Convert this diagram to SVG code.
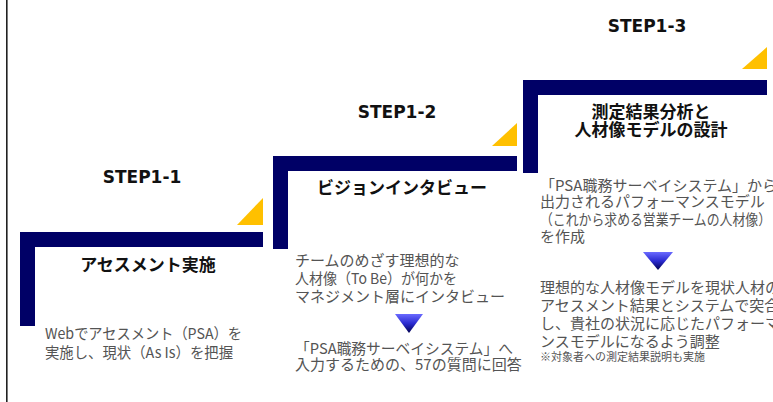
<svg xmlns="http://www.w3.org/2000/svg" width="773" height="402" viewBox="0 0 773 402">
  <defs>
    <linearGradient id="arrowGrad" x1="0" y1="0" x2="0" y2="1">
      <stop offset="0" stop-color="#6a6aff"/>
      <stop offset="0.5" stop-color="#2a2ad0"/>
      <stop offset="1" stop-color="#000050"/>
    </linearGradient>
    <style>
      .bar { fill: #000066; }
      .tri { fill: #FFC000; }
      .step { font-family: "DejaVu Sans", Verdana, sans-serif; font-weight: bold; font-size: 17px; fill: #111; text-anchor: middle; }
      .title { font-family: "Noto Sans CJK JP", sans-serif; font-weight: bold; font-size: 17px; fill: #111; text-anchor: middle; }
      .body { font-family: "Noto Sans CJK JP", sans-serif; font-size: 15px; fill: #545454; }
      .note { font-family: "Noto Sans CJK JP", sans-serif; font-size: 11px; fill: #545454; }
      .arrow { fill: url(#arrowGrad); }
    </style>
  </defs>
  <rect x="0" y="0" width="773" height="402" fill="#ffffff"/>
  <rect x="6" y="0" width="1.6" height="402" fill="#222"/>

  <g id="step1-1">
    <text class="step" x="142" y="183">STEP1-1</text>
    <polygon class="tri" points="237,225 263,225 263,198"/>
    <rect class="bar" x="20" y="232" width="243" height="15"/>
    <rect class="bar" x="20" y="232" width="15" height="94"/>
    <text class="title" x="148" y="271">アセスメント実施</text>
    <text class="body" x="45" y="339" textLength="197" lengthAdjust="spacingAndGlyphs">Webでアセスメント（PSA）を</text>
    <text class="body" x="45" y="358" textLength="188" lengthAdjust="spacingAndGlyphs">実施し、現状（As Is）を把握</text>
  </g>

  <g id="step1-2">
    <text class="step" x="397" y="118">STEP1-2</text>
    <polygon class="tri" points="492,146 517,146 517,123"/>
    <rect class="bar" x="273" y="156" width="244" height="15"/>
    <rect class="bar" x="273" y="156" width="15" height="93"/>
    <text class="title" x="402" y="194">ビジョンインタビュー</text>
    <text class="body" x="295" y="266">チームのめざす理想的な</text>
    <text class="body" x="295" y="284" textLength="162" lengthAdjust="spacingAndGlyphs">人材像（To Be）が何かを</text>
    <text class="body" x="295" y="302">マネジメント層にインタビュー</text>
    <text class="body" x="295" y="354" textLength="218" lengthAdjust="spacingAndGlyphs">「PSA職務サーベイシステム」へ</text>
    <text class="body" x="295" y="370">入力するための、57の質問に回答</text>
  </g>

  <g id="step1-3">
    <text class="step" x="647" y="32">STEP1-3</text>
    <polygon class="tri" points="742,69 767,69 767,47"/>
    <rect class="bar" x="523" y="80" width="244" height="15"/>
    <rect class="bar" x="523" y="80" width="15" height="93"/>
    <text class="title" x="651" y="118">測定結果分析と</text>
    <text class="title" x="651" y="136">人材像モデルの設計</text>
    <text class="body" x="540" y="191">「PSA職務サーベイシステム」から</text>
    <text class="body" x="540" y="207">出力されるパフォーマンスモデル</text>
    <text class="body" x="540" y="225" textLength="231" lengthAdjust="spacingAndGlyphs">（これから求める営業チームの人材像）</text>
    <text class="body" x="540" y="242">を作成</text>
    <text class="body" x="540" y="293">理想的な人材像モデルを現状人材の</text>
    <text class="body" x="540" y="311">アセスメント結果とシステムで突合</text>
    <text class="body" x="540" y="329">し、貴社の状況に応じたパフォーマ</text>
    <text class="body" x="540" y="347">ンスモデルになるよう調整</text>
    <text class="note" x="540" y="361">※対象者への測定結果説明も実施</text>
  </g>

  <g id="connectors">
    <polygon class="arrow" points="395,314 423,314 409,333"/>
    <polygon class="arrow" points="643,252 673,252 658,270"/>
  </g>
</svg>
